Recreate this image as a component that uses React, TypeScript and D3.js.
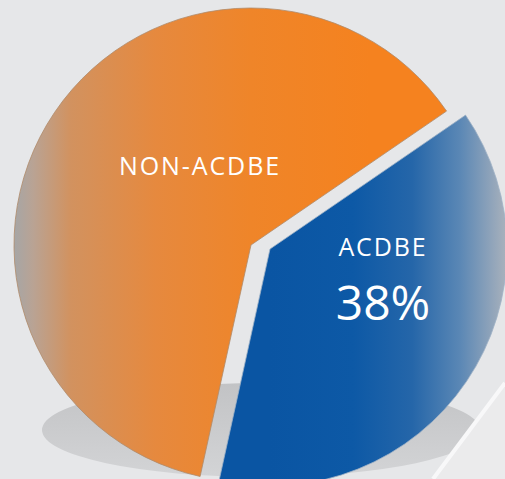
import React from "react";
import * as d3 from "d3";

// chart data
const categories = ["ACDBE", "NON-ACDBE"];
const shares = [38, 62];

const W = 505;
const H = 479;
const cx = 251;
const cy = 245;
const radius = 237;

const deg = (d: number) => (d * Math.PI) / 180;

const App = () => {
    // blue slice centred on ~124deg (clockwise from top)
    const start = deg(124) - (shares[0] / 100) * Math.PI;
    const pie = d3.pie<number>().sort(null).startAngle(start).endAngle(start + Math.PI * 2);
    const arcs = pie(shares);
    const arc = d3.arc<d3.PieArcDatum<number>>().innerRadius(0).outerRadius(radius);

    // exploded blue slice offset
    const explode = (i: number) => (i === 0 ? [19, 4] : [0, 0]);

    return (
        <svg width={W} height={H} style={{ position: "absolute", left: 0, top: 0 }}
            fontFamily="'Open Sans', 'Noto Sans', sans-serif">
            <defs>
                {/* gradients in the local (pie-centred) coordinates */}
                <linearGradient id="gOrange" gradientUnits="userSpaceOnUse" x1={-radius} x2={radius} y1={0} y2={0}>
                    <stop offset="0" stopColor="#a6a6a6" />
                    <stop offset="0.04" stopColor="#b9a394" />
                    <stop offset="0.12" stopColor="#d2925f" />
                    <stop offset="0.3" stopColor="#e6893e" />
                    <stop offset="0.5" stopColor="#ef8529" />
                    <stop offset="0.75" stopColor="#f5821f" />
                    <stop offset="1" stopColor="#f5821f" />
                </linearGradient>
                <linearGradient id="gBlue" gradientUnits="userSpaceOnUse" x1={0} x2={radius} y1={0} y2={0}>
                    <stop offset="0" stopColor="#0a55a3" />
                    <stop offset="0.35" stopColor="#0d59a6" />
                    <stop offset="0.6" stopColor="#2566a9" />
                    <stop offset="0.8" stopColor="#5a87b5" />
                    <stop offset="0.93" stopColor="#8ea3ba" />
                    <stop offset="1" stopColor="#aab2bc" />
                </linearGradient>
                <linearGradient id="gShadow" x1="0" x2="0" y1="0" y2="1">
                    <stop offset="0" stopColor="#c2c3c5" />
                    <stop offset="1" stopColor="#d3d4d6" />
                </linearGradient>
            </defs>
            <rect width={W} height={H} fill="#e6e7e9" />
            <ellipse cx={261} cy={430} rx={219} ry={47} fill="url(#gShadow)" />
            {/* light diagonal band at lower right */}
            <path d={`M${W},383 L${W},${H} L433,${H} Z`} fill="#ebebec" />
            <path d={`M${W},383 L433,${H}`} stroke="#f8f8f9" strokeWidth={4} />
            <g transform={`translate(${cx},${cy})`}>
                {arcs.map((a, i) => {
                    const [dx, dy] = explode(i);
                    return (
                        <path key={categories[i]} d={arc(a) ?? ""}
                            transform={`translate(${dx},${dy})`}
                            fill={`url(#${i === 0 ? "gBlue" : "gOrange"})`}
                            stroke={i === 0 ? "#9fb2c6" : "#b08a6a"} strokeWidth={0.8} />
                    );
                })}
            </g>
            <text x={200} y={175} fill="#fff" fontSize={25} letterSpacing={1.9} textAnchor="middle">
                {categories[1]}
            </text>
            <text x={383} y={256} fill="#fff" fontSize={25} letterSpacing={1.9} textAnchor="middle">
                {categories[0]}
            </text>
            <text x={383} y={320} fill="#fff" fontSize={48} textAnchor="middle">
                {shares[0]}%
            </text>
        </svg>
    );
};

export default App;
